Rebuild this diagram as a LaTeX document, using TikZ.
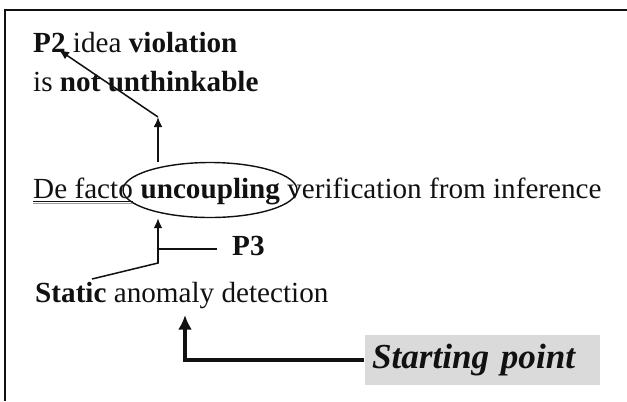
\documentclass[tikz,border=0pt]{standalone}
\usepackage{fontspec}
\setmainfont{Liberation Serif}
\usetikzlibrary{positioning,shapes.geometric,arrows.meta,calc}
\definecolor{inkblk}{HTML}{111111}
\definecolor{inkgry}{HTML}{9A9A9A}
\definecolor{boxgry}{HTML}{DADADA}
\newcommand\bodysize{\fontsize{24.9pt}{29pt}\selectfont}
\newcommand\startsize{\fontsize{30pt}{36pt}\selectfont}
\tikzset{
  txt/.style     ={anchor=base west, inner sep=0pt, font=\bodysize, text=inkblk},
  ring/.style    ={ellipse, draw=inkblk, line width=1.2pt, inner sep=0pt,
                   minimum width=52.2mm, minimum height=16.5mm},
  startbox/.style={rectangle, fill=boxgry, inner sep=0pt, text=inkblk,
                   font=\startsize\bfseries\itshape,
                   minimum width=70.5mm, minimum height=15mm},
  fl/.style      ={-{Latex[length=3mm,width=2.6mm]}, line width=1.3pt, draw=inkblk},
  fk/.style      ={-{Latex[length=4.4mm,width=4.2mm]}, line width=2.6pt, draw=inkblk},
  ul/.style      ={line width=0.8pt, draw=inkblk}
}
\begin{document}
\begin{tikzpicture}[x=0.3mm, y=-0.3mm]
  \useasboundingbox (0,0) rectangle (627,401);
  % frame
  \draw[line width=1.5pt, draw=inkblk] (5,401) -- (5,10) -- (627,10);
  % text lines
  \node[txt] (p2line) at (33,52) {\textbf{P2} idea \textbf{violation}};
  \node[txt] (unthink) at (33,91) {is \textbf{not unthinkable}};
  \node[txt] (defacto) at (33,198) {De facto};
  \node[txt] (infer) at (defacto.base east) {\ \textbf{uncoupling} verification from inference};
  \node[ring] (ring) at (210,190) {};
  \node[txt, inner xsep=4.5mm] (p3) at (217,255) {\textbf{P3}};
  \node[txt] (static) at (35,302) {\textbf{Static} anomaly detection};
  \node[startbox, text width=66mm, align=left] (start) at (482,360) {Starting point};
  % underline
  \draw[ul] ([yshift=-0.9mm]defacto.base west) -- ([yshift=-0.9mm]defacto.base east);
  \draw[ul, draw=inkgry] ([yshift=-1.5mm]defacto.base west) -- ([yshift=-1.5mm]defacto.base east);
  % connectors
  \coordinate (upTip) at (158,117);
  \coordinate (p2tip) at (59,50);
  \coordinate (knee) at (158,263);
  \coordinate (fork) at (158,249);
  \coordinate (foot) at (92,279);
  \coordinate (sTip) at (185,315);
  \draw[fl] (upTip |- ring.north) -- (upTip);
  \draw[fl] (upTip) -- (p2tip);
  \draw[fl] (foot) -- (knee) -- (knee |- ring.south);
  \draw[ul, line width=1.3pt] (fork) -- (fork -| p3.west);
  \draw[fk] (start.west) -| (sTip);
\end{tikzpicture}
\end{document}
